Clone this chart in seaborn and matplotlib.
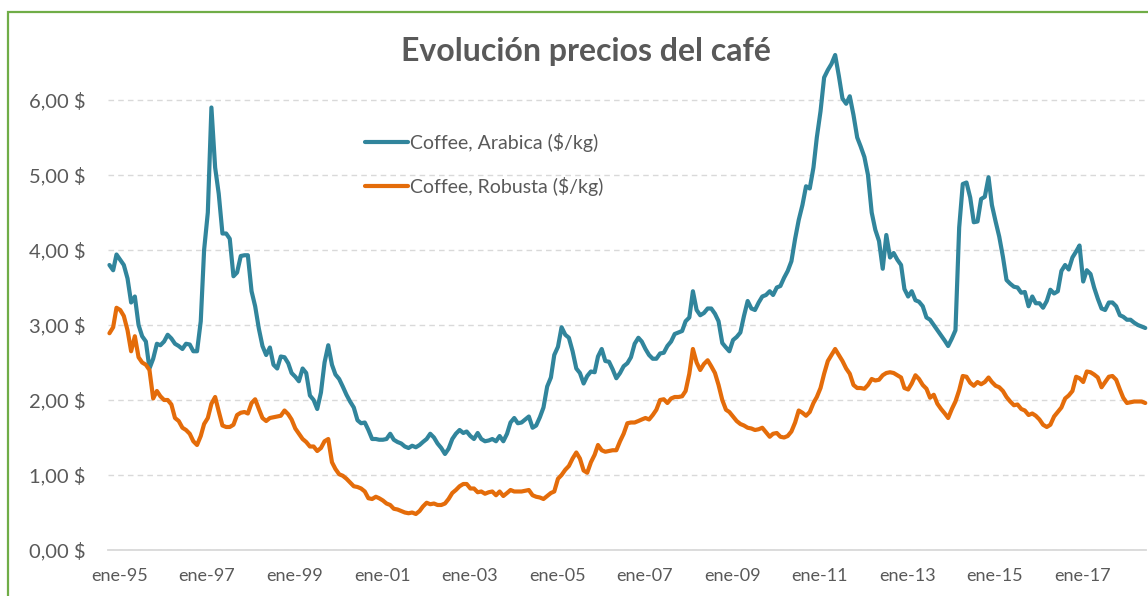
import pandas as pd
import matplotlib
matplotlib.use("Agg")
import matplotlib.pyplot as plt
import matplotlib.ticker as mticker
import matplotlib.transforms as mtransforms
from matplotlib.patches import Rectangle
import seaborn as sns

# precios mensuales ($/kg), una fila por año, desde ene-1995
arabica = [
    3.80, 3.73, 3.94, 3.87, 3.80, 3.62, 3.30, 3.38, 3.00, 2.85, 2.78, 2.42,  # 1995
    2.55, 2.75, 2.73, 2.78, 2.87, 2.82, 2.75, 2.72, 2.68, 2.75, 2.74, 2.65,  # 1996
    2.65, 3.05, 4.00, 4.50, 5.90, 5.10, 4.75, 4.22, 4.22, 4.15, 3.65, 3.70,  # 1997
    3.92, 3.93, 3.93, 3.45, 3.25, 2.95, 2.72, 2.60, 2.70, 2.47, 2.42, 2.58,  # 1998
    2.57, 2.49, 2.36, 2.31, 2.25, 2.42, 2.36, 2.06, 2.00, 1.88, 2.10, 2.50,  # 1999
    2.73, 2.47, 2.34, 2.28, 2.18, 2.07, 1.98, 1.90, 1.73, 1.69, 1.70, 1.60,  # 2000
    1.48, 1.48, 1.47, 1.47, 1.48, 1.55, 1.47, 1.44, 1.42, 1.38, 1.36, 1.39,  # 2001
    1.37, 1.40, 1.44, 1.48, 1.55, 1.50, 1.42, 1.36, 1.28, 1.35, 1.48, 1.55,  # 2002
    1.60, 1.56, 1.58, 1.52, 1.48, 1.56, 1.48, 1.45, 1.46, 1.48, 1.45, 1.52,  # 2003
    1.45, 1.55, 1.70, 1.76, 1.69, 1.70, 1.74, 1.78, 1.63, 1.66, 1.77, 1.90,  # 2004
    2.18, 2.30, 2.60, 2.71, 2.97, 2.87, 2.83, 2.65, 2.42, 2.36, 2.22, 2.32,  # 2005
    2.38, 2.37, 2.58, 2.68, 2.52, 2.51, 2.41, 2.29, 2.36, 2.45, 2.49, 2.57,  # 2006
    2.75, 2.83, 2.78, 2.68, 2.60, 2.55, 2.55, 2.62, 2.63, 2.72, 2.78, 2.88,  # 2007
    2.90, 2.92, 3.05, 3.10, 3.45, 3.20, 3.13, 3.16, 3.22, 3.22, 3.15, 3.05,  # 2008
    2.76, 2.70, 2.65, 2.80, 2.84, 2.90, 3.12, 3.32, 3.22, 3.20, 3.30, 3.38,  # 2009
    3.40, 3.45, 3.40, 3.50, 3.52, 3.63, 3.72, 3.85, 4.15, 4.40, 4.60, 4.85,  # 2010
    4.82, 5.10, 5.50, 5.85, 6.30, 6.40, 6.48, 6.60, 6.32, 6.02, 5.95, 6.05,  # 2011
    5.80, 5.50, 5.38, 5.24, 5.00, 4.50, 4.27, 4.12, 3.75, 4.20, 3.90, 3.96,  # 2012
    3.87, 3.80, 3.48, 3.38, 3.45, 3.33, 3.31, 3.25, 3.10, 3.07, 3.00, 2.93,  # 2013
    2.86, 2.79, 2.72, 2.82, 2.93, 4.30, 4.88, 4.90, 4.70, 4.37, 4.38, 4.68,  # 2014
    4.71, 4.97, 4.60, 4.38, 4.18, 3.91, 3.60, 3.55, 3.51, 3.50, 3.43, 3.44,  # 2015
    3.25, 3.38, 3.29, 3.29, 3.23, 3.32, 3.47, 3.42, 3.45, 3.72, 3.80, 3.74,  # 2016
    3.90, 3.98, 4.06, 3.58, 3.73, 3.68, 3.50, 3.35, 3.22, 3.20, 3.30, 3.30,  # 2017
    3.25, 3.13, 3.11, 3.07, 3.07, 3.03, 3.00, 2.98, 2.96,                    # 2018
]

robusta = [
    2.89, 2.97, 3.23, 3.20, 3.12, 2.93, 2.65, 2.85, 2.57, 2.50, 2.47, 2.40,  # 1995
    2.02, 2.12, 2.05, 2.00, 2.00, 1.94, 1.76, 1.72, 1.63, 1.60, 1.55, 1.45,  # 1996
    1.40, 1.52, 1.68, 1.76, 1.95, 2.04, 1.85, 1.66, 1.64, 1.64, 1.67, 1.80,  # 1997
    1.83, 1.84, 1.82, 1.96, 2.01, 1.88, 1.76, 1.72, 1.76, 1.77, 1.78, 1.79,  # 1998
    1.86, 1.81, 1.74, 1.62, 1.55, 1.48, 1.44, 1.38, 1.38, 1.32, 1.36, 1.45,  # 1999
    1.48, 1.17, 1.08, 1.01, 0.99, 0.95, 0.90, 0.85, 0.84, 0.82, 0.78, 0.69,  # 2000
    0.68, 0.71, 0.69, 0.66, 0.62, 0.60, 0.55, 0.54, 0.52, 0.50, 0.49, 0.50,  # 2001
    0.48, 0.52, 0.58, 0.63, 0.61, 0.62, 0.60, 0.60, 0.62, 0.68, 0.76, 0.80,  # 2002
    0.85, 0.88, 0.88, 0.82, 0.82, 0.77, 0.78, 0.75, 0.77, 0.78, 0.73, 0.78,  # 2003
    0.72, 0.76, 0.80, 0.78, 0.78, 0.78, 0.79, 0.80, 0.73, 0.71, 0.70, 0.68,  # 2004
    0.72, 0.76, 0.78, 0.95, 1.00, 1.07, 1.12, 1.22, 1.30, 1.22, 1.06, 1.03,  # 2005
    1.17, 1.27, 1.40, 1.33, 1.31, 1.32, 1.33, 1.33, 1.45, 1.55, 1.69, 1.70,  # 2006
    1.70, 1.72, 1.74, 1.76, 1.74, 1.80, 1.87, 2.00, 2.01, 1.96, 2.02, 2.04,  # 2007
    2.04, 2.05, 2.12, 2.35, 2.68, 2.50, 2.40, 2.48, 2.53, 2.45, 2.36, 2.20,  # 2008
    2.00, 1.87, 1.84, 1.78, 1.72, 1.68, 1.66, 1.63, 1.62, 1.60, 1.61, 1.63,  # 2009
    1.57, 1.51, 1.55, 1.56, 1.51, 1.50, 1.52, 1.58, 1.70, 1.86, 1.83, 1.79,  # 2010
    1.84, 1.96, 2.04, 2.16, 2.35, 2.52, 2.60, 2.68, 2.60, 2.52, 2.42, 2.35,  # 2011
    2.20, 2.16, 2.16, 2.15, 2.20, 2.28, 2.26, 2.27, 2.33, 2.36, 2.37, 2.36,  # 2012
    2.33, 2.30, 2.16, 2.14, 2.22, 2.33, 2.28, 2.20, 2.15, 2.03, 2.07, 1.95,  # 2013
    1.88, 1.82, 1.76, 1.88, 1.98, 2.13, 2.32, 2.31, 2.23, 2.19, 2.24, 2.21,  # 2014
    2.24, 2.30, 2.24, 2.19, 2.17, 2.12, 2.04, 1.98, 1.93, 1.94, 1.88, 1.86,  # 2015
    1.80, 1.82, 1.79, 1.74, 1.67, 1.64, 1.67, 1.78, 1.84, 1.90, 2.02, 2.06,  # 2016
    2.12, 2.31, 2.29, 2.24, 2.38, 2.37, 2.34, 2.30, 2.17, 2.24, 2.31, 2.32,  # 2017
    2.27, 2.14, 2.03, 1.96, 1.97, 1.98, 1.98, 1.98, 1.96,                    # 2018
]

series = ["Coffee, Arabica ($/kg)", "Coffee, Robusta ($/kg)"]
colores = ["#31859C", "#E46C0A"]
anios_etiqueta = list(range(1995, 2018, 2))
y_ticks = [0, 1, 2, 3, 4, 5, 6]

fechas = pd.date_range("1995-01-01", periods=len(arabica), freq="MS")
df = pd.DataFrame({"fecha": fechas, series[0]: arabica, series[1]: robusta})
largo = df.melt(id_vars="fecha", var_name="serie", value_name="precio")

sns.set_style("white")
plt.rcParams["font.family"] = ["Lato", "DejaVu Sans"]

W, H = 1148, 596
fig = plt.figure(figsize=(W / 100, H / 100), dpi=100)
ymax = 6.7
ax = fig.add_axes([108 / W, 46 / H, (1146 - 108) / W, (550 - 47.5) / H])

sns.lineplot(data=largo, x="fecha", y="precio", hue="serie",
             palette=dict(zip(series, colores)), linewidth=3.0, ax=ax)
for ln in ax.get_lines():
    ln.set_clip_on(False)
    ln.set_solid_joinstyle("round")

ax.set_ylim(0, ymax)
ax.set_xlim(fechas[0] - pd.Timedelta(days=12), fechas[-1] + pd.Timedelta(days=6))

gris = "#595959"
ax.set_yticks(y_ticks)
ax.yaxis.set_major_formatter(mticker.FuncFormatter(
    lambda v, p: f"{v:.2f}".replace(".", ",") + " $"))
ticks_x = [pd.Timestamp(f"{a}-01-01") for a in anios_etiqueta]
ax.set_xticks(ticks_x)
ax.set_xticklabels([f"ene-{str(a)[2:]}" for a in anios_etiqueta])
ax.tick_params(axis="y", length=0, pad=16, labelsize=14.5, labelcolor=gris)
ax.tick_params(axis="x", length=0, pad=13, labelsize=13, labelcolor=gris)
ax.set_xlabel("")
ax.set_ylabel("")

# las etiquetas de fecha van algo desplazadas a la derecha, como en Excel
desplaza = mtransforms.ScaledTranslation(10 / 100, 0, fig.dpi_scale_trans)
for lab in ax.get_xticklabels():
    lab.set_transform(lab.get_transform() + desplaza)

ax.yaxis.grid(True, linestyle=(0, (4, 3)), color="#D9D9D9", linewidth=1)
ax.set_axisbelow(True)
for s in ["top", "right", "left"]:
    ax.spines[s].set_visible(False)
ax.spines["bottom"].set_color("#D9D9D9")
ax.spines["bottom"].set_linewidth(1.3)

ax.legend(loc="upper left", bbox_to_anchor=((365 - 108) / 1038, (550 - 133) / 502.5),
          frameon=False, fontsize=14, labelcolor=gris, borderpad=0,
          borderaxespad=0, handlelength=2.2, handletextpad=0.1,
          labelspacing=1.27)

fig.text(586 / W, 1 - 52 / H, "Evolución precios del café", ha="center",
         va="center", fontsize=23, fontweight="bold", color=gris)

# borde verde del gráfico
fig.patches.append(Rectangle((8 / W, -0.1), 1.2, 1.1 - 12 / H,
                             transform=fig.transFigure, fill=False,
                             edgecolor="#70AD47", linewidth=1.6))

fig.savefig("out.png", dpi=100)
